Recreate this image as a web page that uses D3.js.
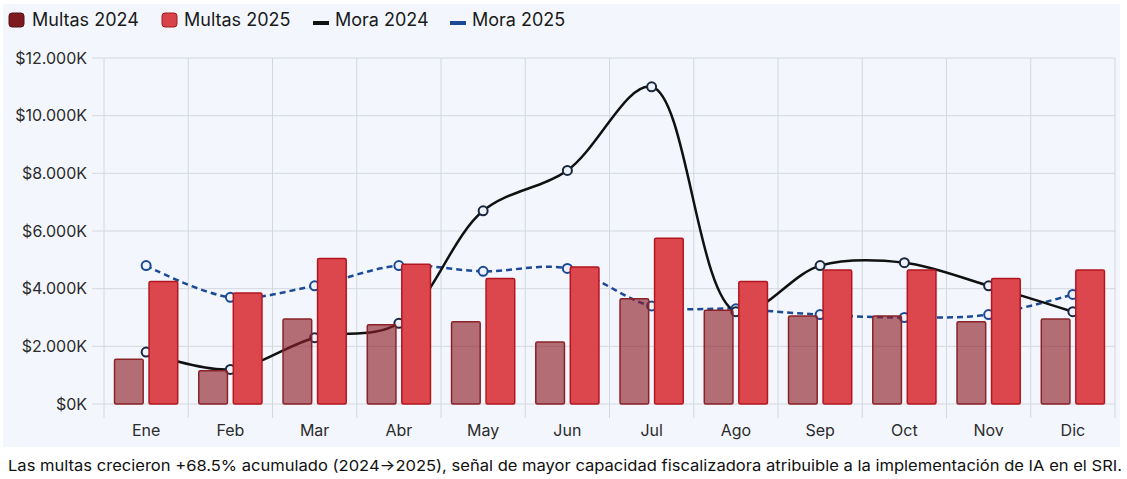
<!DOCTYPE html>
<html lang="es">
<head>
<meta charset="UTF-8">
<title>Multas y mora</title>
<script src="https://cdn.jsdelivr.net/npm/d3@7"></script>
<style>
  body { margin: 0; background: #fff; }
  text { font-family: Inter, "Liberation Sans", Arial, sans-serif; }
</style>
</head>
<body>
<div id="container"></div>
<script>
const months = ['Ene', 'Feb', 'Mar', 'Abr', 'May', 'Jun', 'Jul', 'Ago', 'Sep', 'Oct', 'Nov', 'Dic'];
// valores en miles de dólares (K)
const multas2024 = [1550, 1150, 2950, 2750, 2850, 2150, 3650, 3250, 3050, 3050, 2850, 2950];
const multas2025 = [4250, 3850, 5050, 4850, 4350, 4750, 5750, 4250, 4650, 4650, 4350, 4650];
const mora2024 = [1800, 1200, 2300, 2800, 6700, 8100, 11000, 3200, 4800, 4900, 4100, 3200];
const mora2025 = [4800, 3700, 4100, 4800, 4600, 4700, 3400, 3300, 3100, 3000, 3100, 3800];
const yTicks = [0, 2000, 4000, 6000, 8000, 10000, 12000];
const caption = 'Las multas crecieron +68.5% acumulado (2024\u21922025), señal de mayor capacidad fiscalizadora atribuible a la implementación de IA en el SRI.';

const width = 1127, height = 479;
const margin = { top: 58, left: 104, right: 12, bottom: 75 };

const svg = d3.select('#container').append('svg')
  .attr('width', width).attr('height', height);

// panel
svg.append('rect').attr('x', 3).attr('y', 4).attr('width', 1117).attr('height', 443)
  .attr('fill', '#f3f7fd');

const x0 = d3.scaleBand().domain(months)
  .range([margin.left, width - margin.right])
  .paddingInner(0.25).paddingOuter(0.125);
const x1 = d3.scaleBand().domain(['2024', '2025'])
  .range([0, x0.bandwidth()]).paddingInner(0.17);
const y = d3.scaleLinear().domain([0, 12000]).range([height - margin.bottom, margin.top]);

const loc = d3.formatLocale({ decimal: ',', thousands: '.', grouping: [3], currency: ['$', ''] });
const fmt = v => '$' + loc.format(',')(v) + 'K';

const chart = svg.append('g');

// cuadrícula horizontal
chart.append('g').selectAll('line').data(yTicks).join('line')
  .attr('x1', margin.left - 12).attr('x2', width - margin.right)
  .attr('y1', d => y(d)).attr('y2', d => y(d))
  .attr('stroke', '#d3d7de').attr('stroke-width', 1);

// cuadrícula vertical (bordes de categoría)
const edges = months.map(m => x0(m) - x0.step() * 0.125).concat([width - margin.right]);
chart.append('g').selectAll('line').data(edges).join('line')
  .attr('x1', d => d).attr('x2', d => d)
  .attr('y1', margin.top).attr('y2', y(0) + 14)
  .attr('stroke', '#d3d7de').attr('stroke-width', 1);

// etiquetas eje Y
chart.append('g').selectAll('text').data(yTicks).join('text')
  .attr('x', margin.left - 17).attr('y', d => y(d)).attr('dy', '0.35em')
  .attr('text-anchor', 'end').attr('font-size', 16).attr('fill', '#2b2b2b')
  .text(fmt);

// etiquetas eje X
chart.append('g').selectAll('text').data(months).join('text')
  .attr('x', d => x0(d) + x0.bandwidth() / 2).attr('y', y(0) + 32)
  .attr('text-anchor', 'middle').attr('font-size', 16).attr('fill', '#2b2b2b')
  .text(d => d);

// líneas de mora
const cx = (d, i) => x0(months[i]) + x0.bandwidth() / 2;
const line = d3.line().x(cx).y(d => y(d)).curve(d3.curveCatmullRom.alpha(0.5));

chart.append('path').datum(mora2025)
  .attr('fill', 'none').attr('stroke', '#1d4a96').attr('stroke-width', 2.5)
  .attr('stroke-dasharray', '6,4').attr('d', line);
chart.append('path').datum(mora2024)
  .attr('fill', 'none').attr('stroke', '#111').attr('stroke-width', 2.5)
  .attr('d', line);

chart.append('g').selectAll('circle').data(mora2025).join('circle')
  .attr('cx', cx).attr('cy', d => y(d)).attr('r', 4.5)
  .attr('fill', '#eef2fa').attr('stroke', '#1d4a96').attr('stroke-width', 2);
chart.append('g').selectAll('circle').data(mora2024).join('circle')
  .attr('cx', cx).attr('cy', d => y(d)).attr('r', 4.5)
  .attr('fill', '#eef2fa').attr('stroke', '#1a2740').attr('stroke-width', 2);

// barras
chart.append('g').selectAll('rect').data(multas2024).join('rect')
  .attr('x', (d, i) => x0(months[i]) + x1('2024'))
  .attr('y', d => y(d)).attr('width', x1.bandwidth())
  .attr('height', d => y(0) - y(d)).attr('rx', 1.5)
  .attr('fill', 'rgba(140,28,38,0.63)').attr('stroke', '#8a2228').attr('stroke-width', 1.5);
chart.append('g').selectAll('rect').data(multas2025).join('rect')
  .attr('x', (d, i) => x0(months[i]) + x1('2025'))
  .attr('y', d => y(d)).attr('width', x1.bandwidth())
  .attr('height', d => y(0) - y(d)).attr('rx', 1.5)
  .attr('fill', '#dc474e').attr('stroke', '#b3161e').attr('stroke-width', 1.5);

// leyenda
const legend = [
  { label: 'Multas 2024', type: 'box', fill: '#7d1a1f', stroke: '#5a0f12', x: 9, tx: 32 },
  { label: 'Multas 2025', type: 'box', fill: '#d8434a', stroke: '#a8161d', x: 162, tx: 184 },
  { label: 'Mora 2024', type: 'dash', fill: '#111', x: 313, tx: 335 },
  { label: 'Mora 2025', type: 'dash', fill: '#1d4a96', x: 450, tx: 472 }
];
const lg = svg.append('g').selectAll('g').data(legend).join('g')
  .attr('transform', d => `translate(${d.x},20)`);
lg.filter(d => d.type === 'box').append('rect')
  .attr('x', 0).attr('y', -7).attr('width', 15).attr('height', 14).attr('rx', 3)
  .attr('fill', d => d.fill).attr('stroke', d => d.stroke).attr('stroke-width', 1);
lg.filter(d => d.type === 'dash').append('rect')
  .attr('x', 0).attr('y', 1).attr('width', 16).attr('height', 4)
  .attr('fill', d => d.fill);
lg.append('text').attr('x', d => d.tx - d.x).attr('dy', '0.35em')
  .attr('font-size', 18).attr('fill', '#1a1a1a').text(d => d.label);

// nota al pie
svg.append('text').attr('x', 8).attr('y', 471)
  .attr('font-size', 15).attr('fill', '#111')
  .attr('textLength', 1114).attr('lengthAdjust', 'spacingAndGlyphs')
  .text(caption);
</script>
</body>
</html>
